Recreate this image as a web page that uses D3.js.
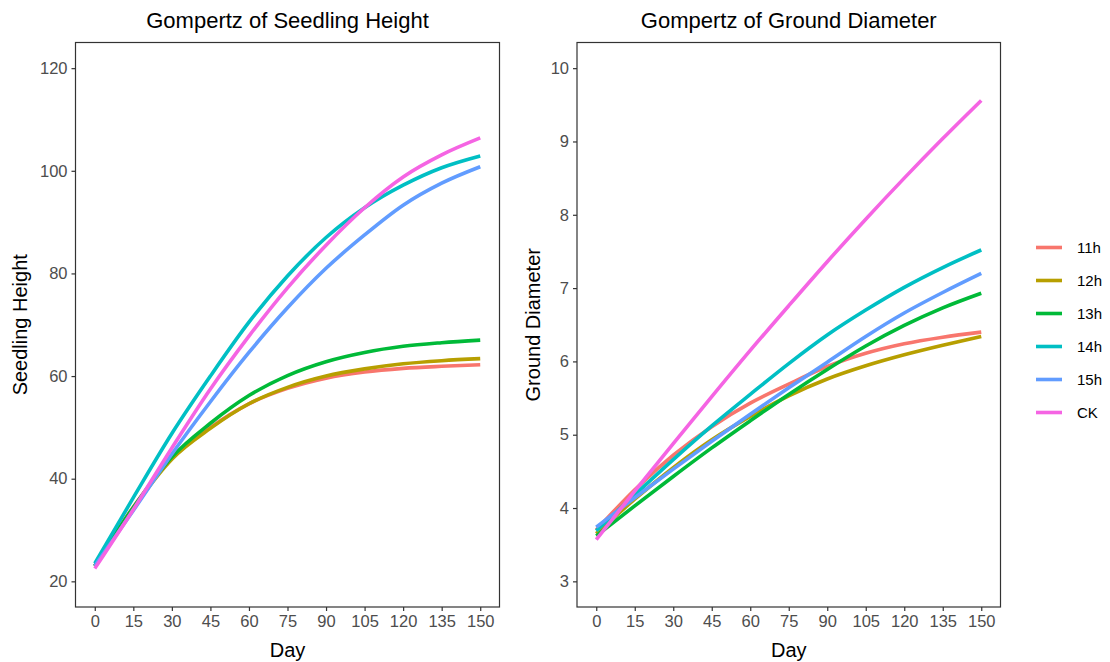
<!DOCTYPE html>
<html><head><meta charset="utf-8">
<script src="https://cdn.jsdelivr.net/npm/d3@7"></script>
<style>
body{margin:0;background:#fff;}
svg{display:block;font-family:"Liberation Sans",Arial,sans-serif;}
</style></head>
<body><svg id="c" width="1110" height="662"></svg>
<script>
const days = [0,15,30,45,60,75,90,105,120,135,150];
const groups = ["11h","12h","13h","14h","15h","CK"];
const colors = ["#F8766D","#B79F00","#00BA38","#00BFC4","#619CFF","#F564E3"];

// Seedling Height
const h11 = [23.0,34.5,44.0,50.0,54.6,57.6,59.6,60.8,61.5,61.9,62.2];
const h12 = [23.0,34.3,43.8,49.8,54.6,57.8,60.0,61.4,62.4,63.0,63.4];
const h13 = [23.0,34.4,44.2,50.8,56.2,60.1,62.8,64.6,65.8,66.5,67.0];
const h14 = [23.5,36.3,48.8,60.0,70.5,79.5,87.0,92.8,97.2,100.6,102.9];
const h15 = [23.0,33.8,44.8,55.0,64.6,73.3,81.0,87.5,93.3,97.6,100.8];
const hCK = [22.5,34.0,46.0,57.5,67.8,77.2,85.5,92.8,98.8,103.1,106.4];

// Ground Diameter
const d11 = [3.70,4.25,4.72,5.11,5.43,5.69,5.93,6.11,6.24,6.33,6.40];
const d12 = [3.65,4.12,4.55,4.93,5.25,5.53,5.76,5.94,6.09,6.22,6.34];
const d13 = [3.62,4.03,4.43,4.82,5.19,5.55,5.89,6.21,6.49,6.73,6.93];
const d14 = [3.69,4.18,4.66,5.12,5.55,5.97,6.36,6.70,7.01,7.28,7.52];
const d15 = [3.74,4.14,4.53,4.91,5.28,5.64,5.99,6.34,6.66,6.94,7.20];
const dCK = [3.57,4.23,4.88,5.52,6.15,6.76,7.36,7.94,8.50,9.04,9.56];

const xTicks = [0,15,30,45,60,75,90,105,120,135,150];
const hTicks = [20,40,60,80,100,120];
const dTicks = [3,4,5,6,7,8,9,10];

const svg = d3.select("#c");
const panels = [
  {title:"Gompertz of Seedling Height", ylab:"Seedling Height", series:[h11,h12,h13,h14,h15,hCK],
   ydom:[15,125], yticks:hTicks, left:75.5, right:499.5, ylabX:27},
  {title:"Gompertz of Ground Diameter", ylab:"Ground Diameter", series:[d11,d12,d13,d14,d15,dCK],
   ydom:[2.65,10.35], yticks:dTicks, left:577, right:1000.5, ylabX:540}
];
const pTop=42.5, pBottom=607;

panels.forEach(p=>{
  const x = d3.scaleLinear().domain([-7.5,157.5]).range([p.left,p.right]);
  const y = d3.scaleLinear().domain(p.ydom).range([pBottom,pTop]);
  const g = svg.append("g");
  const line = d3.line().x((d,i)=>x(days[i])).y(d=>y(d)).curve(d3.curveMonotoneX);
  p.series.forEach((s,i)=>{
    g.append("path").attr("d",line(s)).attr("fill","none")
     .attr("stroke",colors[i]).attr("stroke-width",3.6).attr("stroke-linecap","butt");
  });
  g.append("rect").attr("x",p.left).attr("y",pTop).attr("width",p.right-p.left).attr("height",pBottom-pTop)
   .attr("fill","none").attr("stroke","#333").attr("stroke-width",1.2);
  const xa = g.append("g").attr("transform",`translate(0,${pBottom})`)
    .call(d3.axisBottom(x).tickValues(xTicks).tickSize(4).tickPadding(4));
  const ya = g.append("g").attr("transform",`translate(${p.left},0)`)
    .call(d3.axisLeft(y).tickValues(p.yticks).tickSize(4).tickPadding(4));
  [xa,ya].forEach(a=>{
    a.select(".domain").remove();
    a.selectAll("line").attr("stroke","#333").attr("stroke-width",1.2);
    a.selectAll("text").attr("fill","#4d4d4d").attr("font-size",16.5)
      .attr("font-family","'Liberation Sans',Arial,sans-serif");
  });
  const cx = (p.left+p.right)/2;
  g.append("text").attr("x",cx).attr("y",28).attr("text-anchor","middle")
    .attr("font-size",22).attr("fill","#000").text(p.title);
  g.append("text").attr("x",cx).attr("y",657).attr("text-anchor","middle")
    .attr("font-size",20).attr("fill","#000").text("Day");
  g.append("text").attr("transform",`translate(${p.ylabX},${(pTop+pBottom)/2}) rotate(-90)`)
    .attr("text-anchor","middle").attr("font-size",20).attr("fill","#000").text(p.ylab);
});

const lg = svg.append("g");
groups.forEach((gname,i)=>{
  const yy = 247.5 + i*33;
  lg.append("line").attr("x1",1036).attr("x2",1062).attr("y1",yy).attr("y2",yy)
    .attr("stroke",colors[i]).attr("stroke-width",3.6);
  lg.append("text").attr("x",1077).attr("y",yy).attr("dy","0.35em")
    .attr("font-size",15).attr("fill","#000").text(gname);
});
</script></body></html>
